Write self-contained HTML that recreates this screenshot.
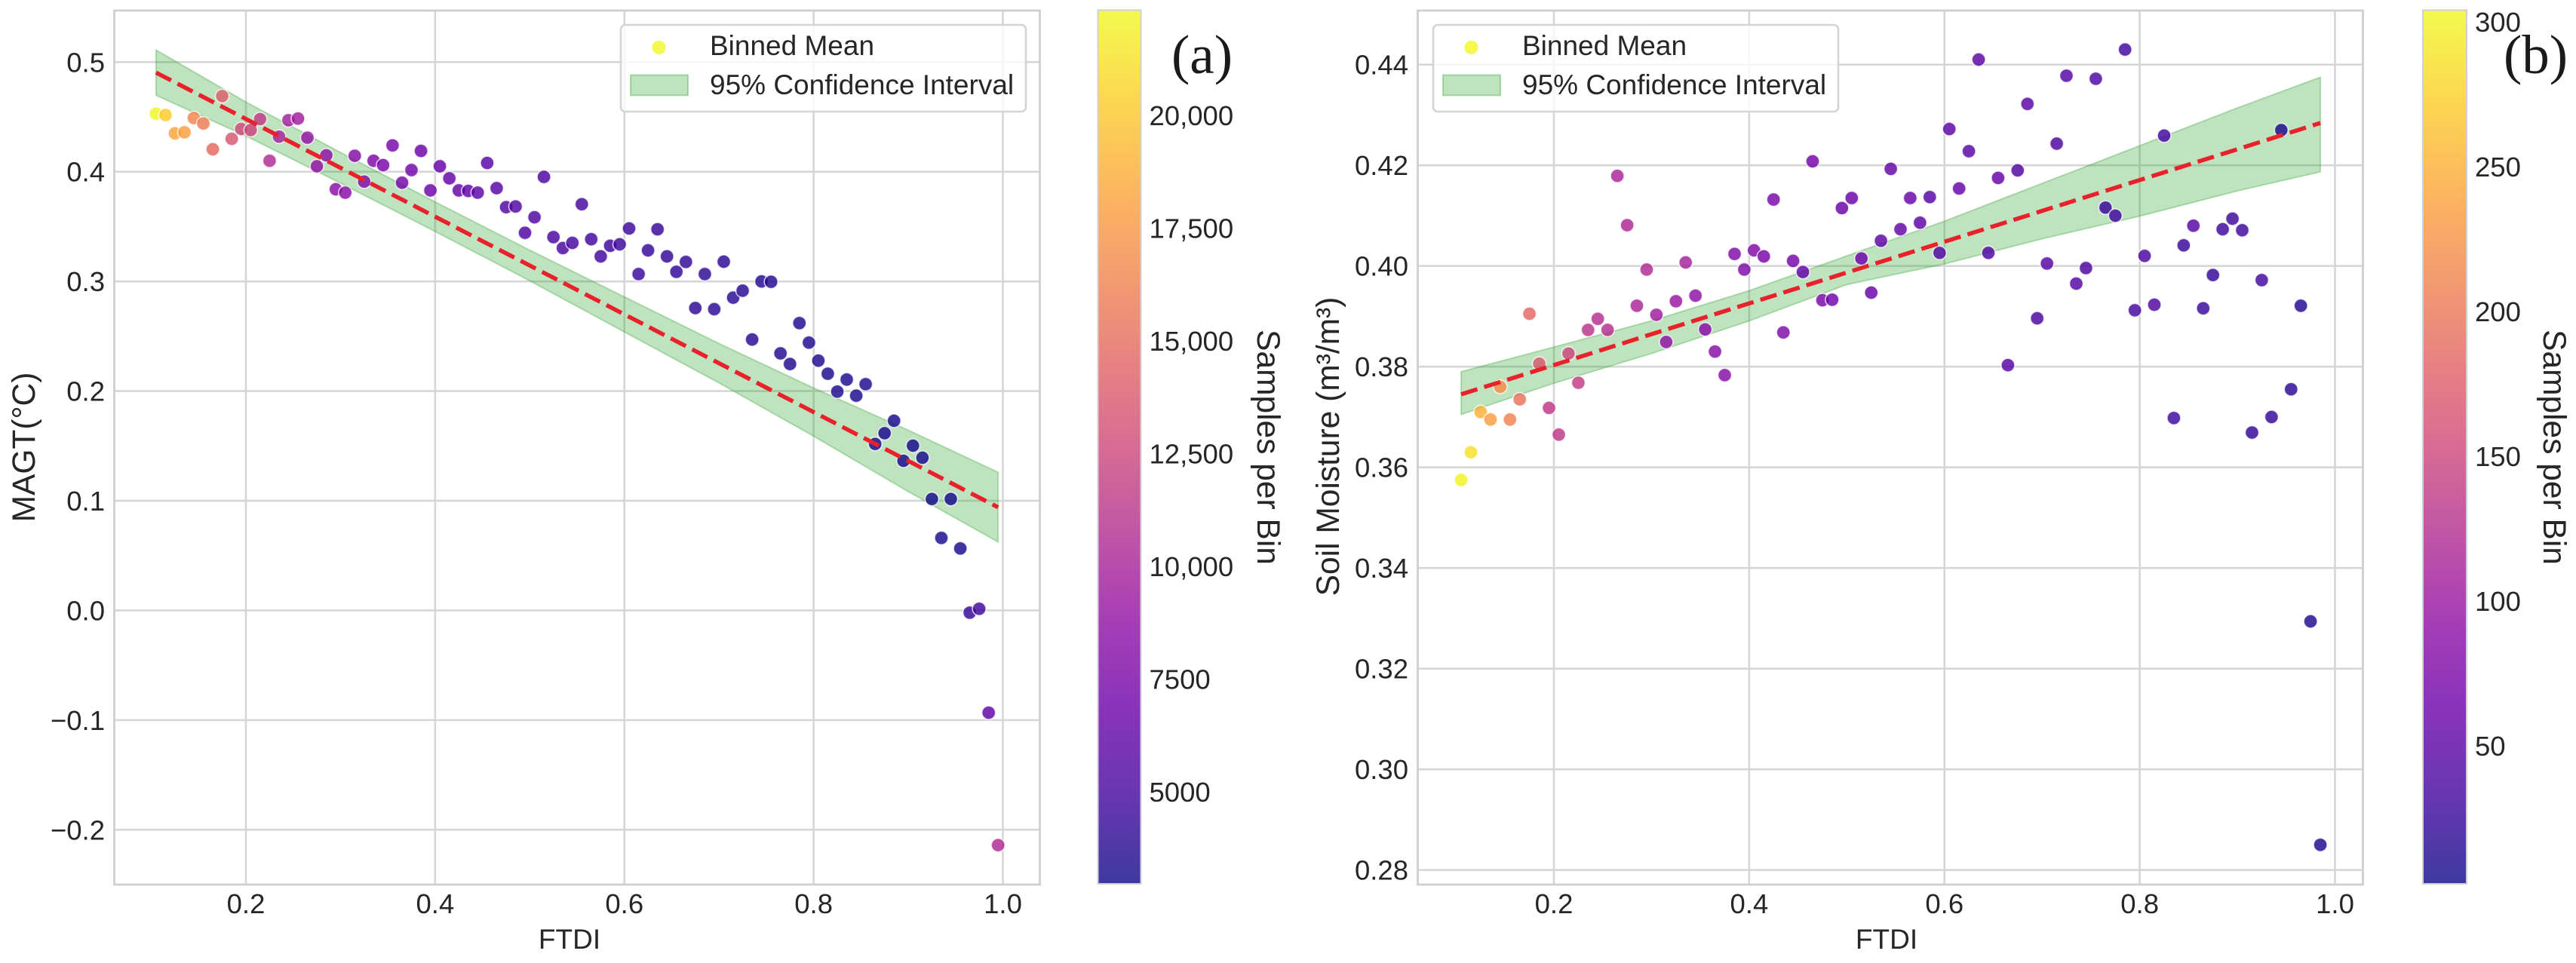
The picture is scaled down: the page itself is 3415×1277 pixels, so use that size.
<!DOCTYPE html>
<html lang="en">
<head>
<meta charset="utf-8">
<title>FTDI vs MAGT and Soil Moisture</title>
<style>
html,body{margin:0;padding:0;background:#fff;}
svg{display:block;}
text{font-family:"Liberation Sans",sans-serif;fill:#262626;}
.tick{font-size:36.5px;}
.legend-text{font-size:37px;}
.axis-title{font-size:42.5px;}
.x-title{font-size:37px;}
.panel-label{font-family:"Liberation Serif",serif;font-size:73px;fill:#1a1a1a;}
</style>
</head>
<body>
<svg id="figure" xmlns="http://www.w3.org/2000/svg" width="3415" height="1277" viewBox="0 0 3415 1277">
  <defs id="defs"></defs>
  <rect x="0" y="0" width="3415" height="1277" fill="#ffffff"/>

  <g id="panel-a">
    <g id="a-grid"></g>
    <g id="a-band"></g>
    <g id="a-points"></g>
    <g id="a-fit"></g>
    <rect x="151.5" y="14" width="1227" height="1159" fill="none" stroke="#cfcfcf" stroke-width="2.8"/>
    <g id="a-xticks"></g>
    <g id="a-yticks"></g>
    <text class="x-title" x="755" y="1258" text-anchor="middle">FTDI</text>
    <text class="axis-title" transform="translate(46 593) rotate(-90)" text-anchor="middle">MAGT(°C)</text>
    <g>
      <rect x="823" y="33" width="537" height="115" rx="6" fill="#ffffff" fill-opacity="0.8" stroke="#d4d4d4" stroke-width="2.6"/>
      <circle cx="873.5" cy="63" r="9" fill="#f0f921" fill-opacity="0.8"/>
      <text class="legend-text" x="941" y="73">Binned Mean</text>
      <rect x="836" y="99.5" width="76" height="27" fill="#2ca02c" fill-opacity="0.3" stroke="#2ca02c" stroke-opacity="0.35" stroke-width="2"/>
      <text class="legend-text" x="941" y="125">95% Confidence Interval</text>
    </g>
    <g id="a-cbar"></g>
    <text class="axis-title" transform="translate(1667 593) rotate(90)" text-anchor="middle">Samples per Bin</text>
    <text class="panel-label" x="1553" y="97">(a)</text>
  </g>

  <g id="panel-b">
    <g id="b-grid"></g>
    <g id="b-band"></g>
    <g id="b-points"></g>
    <g id="b-fit"></g>
    <rect x="1879.5" y="14" width="1253" height="1159" fill="none" stroke="#cfcfcf" stroke-width="2.8"/>
    <g id="b-xticks"></g>
    <g id="b-yticks"></g>
    <text class="x-title" x="2501" y="1258" text-anchor="middle">FTDI</text>
    <text class="axis-title" transform="translate(1775 592) rotate(-90)" text-anchor="middle">Soil Moisture (m³/m³)</text>
    <g>
      <rect x="1900" y="33" width="537" height="115" rx="6" fill="#ffffff" fill-opacity="0.8" stroke="#d4d4d4" stroke-width="2.6"/>
      <circle cx="1950.5" cy="63" r="9" fill="#f0f921" fill-opacity="0.8"/>
      <text class="legend-text" x="2018" y="73">Binned Mean</text>
      <rect x="1913" y="99.5" width="76" height="27" fill="#2ca02c" fill-opacity="0.3" stroke="#2ca02c" stroke-opacity="0.35" stroke-width="2"/>
      <text class="legend-text" x="2018" y="125">95% Confidence Interval</text>
    </g>
    <g id="b-cbar"></g>
    <text class="axis-title" transform="translate(3372 593) rotate(90)" text-anchor="middle">Samples per Bin</text>
    <text class="panel-label" x="3319" y="97">(b)</text>
  </g>
</svg>

<script>
// ---------- Panel (a) data ----------
const ftdiA = [
  0.105,0.115,0.125,0.135,0.145,0.155,0.165,0.175,0.185,0.195,
  0.205,0.215,0.225,0.235,0.245,0.255,0.265,0.275,0.285,0.295,
  0.305,0.315,0.325,0.335,0.345,0.355,0.365,0.375,0.385,0.395,
  0.405,0.415,0.425,0.435,0.445,0.455,0.465,0.475,0.485,0.495,
  0.505,0.515,0.525,0.535,0.545,0.555,0.565,0.575,0.585,0.595,
  0.605,0.615,0.625,0.635,0.645,0.655,0.665,0.675,0.685,0.695,
  0.705,0.715,0.725,0.735,0.745,0.755,0.765,0.775,0.785,0.795,
  0.805,0.815,0.825,0.835,0.845,0.855,0.865,0.875,0.885,0.895,
  0.905,0.915,0.925,0.935,0.945,0.955,0.965,0.975,0.985,0.995];
const magt = [
  0.453,0.4517,0.435,0.436,0.449,0.444,0.4205,0.469,0.430,0.439,
  0.438,0.448,0.410,0.432,0.447,0.4485,0.431,0.405,0.415,0.384,
  0.381,0.4145,0.391,0.410,0.406,0.424,0.390,0.4015,0.419,0.383,
  0.405,0.394,0.383,0.3825,0.381,0.408,0.385,0.3677,0.3683,0.3443,
  0.3585,0.3953,0.3404,0.3304,0.3351,0.3704,0.3385,0.3228,0.3325,0.3338,
  0.3483,0.3067,0.3283,0.3475,0.3228,0.3088,0.3178,0.2757,0.3067,0.2747,
  0.318,0.2852,0.2915,0.247,0.3,0.2996,0.2344,0.2247,0.262,0.2442,
  0.2278,0.2158,0.1995,0.2105,0.1958,0.2063,0.1518,0.1616,0.1729,0.1364,
  0.1502,0.1392,0.1016,0.0661,0.1016,0.0565,-0.002,0.0015,-0.0933,-0.214];
const samplesA = [
  22300,20200,18300,18000,16500,16000,14800,14000,13600,12700,
  12400,11700,10600,9900,9800,9600,9000,8900,8700,8500,
  8300,8200,8000,7800,7600,7400,7200,7100,6900,6800,
  6600,6500,6400,6300,6100,5900,5800,5700,5600,5500,
  5400,5300,5200,5100,5050,5000,4900,4800,4700,4650,
  4600,4500,4450,4400,4300,4250,4200,4100,4050,4000,
  3950,3900,3850,3800,3750,3700,3650,3600,3580,3560,
  3520,3480,3450,3420,3400,3380,3300,3280,3250,3200,
  3180,3150,3120,3300,3100,3400,4400,4800,6200,10500];
const bandXA = [0.105,0.2,0.3,0.4,0.5,0.6,0.7,0.8,0.9,0.995];
const bandUpperA = [0.511,0.4636,0.4176,0.3725,0.3285,0.2859,0.2434,0.2029,0.1643,0.126];
const bandLowerA = [0.4697,0.4326,0.3896,0.3455,0.3005,0.2539,0.2074,0.1589,0.1083,0.0624];
const fitXA = [0.105,0.995];
const fitYA = [0.4904,0.094];
const yTicksA = [-0.2,-0.1,0,0.1,0.2,0.3,0.4,0.5];
const yTickLabelsA = ['\u22120.2','\u22120.1','0.0','0.1','0.2','0.3','0.4','0.5'];
const cbarTicksA = [5000,7500,10000,12500,15000,17500,20000];
const cbarTickLabelsA = ['5000','7500','10,000','12,500','15,000','17,500','20,000'];

// ---------- Panel (b) data ----------
const ftdiB = [
  0.105,0.115,0.125,0.135,0.145,0.155,0.165,0.175,0.185,0.195,
  0.205,0.215,0.225,0.235,0.245,0.255,0.265,0.275,0.285,0.295,
  0.305,0.315,0.325,0.335,0.345,0.355,0.365,0.375,0.385,0.395,
  0.405,0.415,0.425,0.435,0.445,0.455,0.465,0.475,0.485,0.495,
  0.505,0.515,0.525,0.535,0.545,0.555,0.565,0.575,0.585,0.595,
  0.605,0.615,0.625,0.635,0.645,0.655,0.665,0.675,0.685,0.695,
  0.705,0.715,0.725,0.735,0.745,0.755,0.765,0.775,0.785,0.795,
  0.805,0.815,0.825,0.835,0.845,0.855,0.865,0.875,0.885,0.895,
  0.905,0.915,0.925,0.935,0.945,0.955,0.965,0.975,0.985];
const soilMoisture = [
  0.3575,0.363,0.371,0.3695,0.376,0.3695,0.3735,0.3905,0.3806,0.3718,
  0.3665,0.3826,0.3768,0.3873,0.3895,0.3873,0.4179,0.4081,0.3921,0.3993,
  0.3903,0.3849,0.393,0.4007,0.3941,0.3874,0.383,0.3783,0.4024,0.3993,
  0.4031,0.4019,0.4132,0.3868,0.401,0.3988,0.4208,0.3932,0.3933,0.4115,
  0.4135,0.4015,0.3947,0.405,0.4193,0.4073,0.4135,0.4086,0.4137,0.4026,
  0.4272,0.4154,0.4228,0.441,0.4026,0.4175,0.3803,0.419,0.4322,0.3896,
  0.4005,0.4243,0.4378,0.3965,0.3996,0.4372,0.4116,0.41,0.443,0.3912,
  0.402,0.3923,0.4259,0.3698,0.4041,0.408,0.3916,0.3982,0.4073,0.4094,
  0.4071,0.3669,0.3972,0.37,0.427,0.3755,0.3921,0.3294,0.285];
const samplesB = [
  300,285,250,235,220,210,195,185,170,135,
  135,150,140,130,125,125,115,118,115,120,
  105,95,100,110,92,85,85,85,78,78,
  80,72,75,78,70,55,70,72,65,60,
  62,62,58,52,55,55,58,50,48,42,
  52,56,48,50,40,56,48,42,50,38,
  48,38,45,45,40,40,26,30,32,35,
  38,42,32,28,25,48,26,22,28,30,
  30,22,32,22,8,18,14,12,10];
const bandXB = [0.105,0.2,0.3,0.4,0.5,0.6,0.7,0.8,0.9,0.985];
const bandUpperB = [0.379,0.3839,0.3891,0.3951,0.402,0.4089,0.4164,0.4239,0.4314,0.4375];
const bandLowerB = [0.3705,0.3767,0.3826,0.3891,0.3963,0.4004,0.4054,0.4099,0.4149,0.4187];
const fitXB = [0.105,0.985];
const fitYB = [0.3745,0.4284];
const yTicksB = [0.28,0.30,0.32,0.34,0.36,0.38,0.40,0.42,0.44];
const yTickLabelsB = ['0.28','0.30','0.32','0.34','0.36','0.38','0.40','0.42','0.44'];
const cbarTicksB = [50,100,150,200,250,300];
const cbarTickLabelsB = ['50','100','150','200','250','300'];

// ---------- Shared ----------
const xTicks = [0.2,0.4,0.6,0.8,1.0];
const xTickLabels = ['0.2','0.4','0.6','0.8','1.0'];
const plasmaStops = ['#0d0887','#41049d','#6a00a8','#8f0da4','#b12a90','#cc4778','#e16462','#f2844b','#fca636','#fcce25','#f0f921'];

const SVGNS = 'http://www.w3.org/2000/svg';

// Axis functions
function scale(v0, p0, v1, p1) {
  return function (v) { return p0 + (v - v0) * (p1 - p0) / (v1 - v0); };
}
const xA = scale(0.2, 326, 1.0, 1329.5);
const yA = scale(0.5, 82.3, -0.2, 1100.3);
const cA = scale(2960, 0, 22340, 1);
const cbarYA = scale(20000, 153, 5000, 1050);
const xB = scale(0.2, 2060, 1.0, 3095.5);
const yB = scale(0.44, 85.7, 0.28, 1153.7);
const cB = scale(2.3, 0, 304, 1);
const cbarYB = scale(300, 29, 50, 989);

function hexToRgb(h) {
  return [parseInt(h.slice(1,3),16), parseInt(h.slice(3,5),16), parseInt(h.slice(5,7),16)];
}
function plasma(t) {
  const c = Math.max(0, Math.min(1, t)) * (plasmaStops.length - 1);
  const i = Math.min(Math.floor(c), plasmaStops.length - 2);
  const f = c - i;
  const a = hexToRgb(plasmaStops[i]);
  const b = hexToRgb(plasmaStops[i + 1]);
  return 'rgb(' + [0,1,2].map(function (k) { return Math.round(a[k] + (b[k] - a[k]) * f); }).join(',') + ')';
}
function make(tag, parent) {
  const el = document.createElementNS(SVGNS, tag);
  parent.appendChild(el);
  return el;
}

function drawGrid(host, xs, ys, xf, yf, left, right, top, bottom) {
  xs.forEach(function (v) {
    const el = make('line', host);
    
    
    el.setAttribute('x1', xf(v)); el.setAttribute('x2', xf(v));
    el.setAttribute('y1', top); el.setAttribute('y2', bottom);
    el.setAttribute('stroke', '#d6d6d6'); el.setAttribute('stroke-width', '2.6');
  });
  ys.forEach(function (v) {
    const el = make('line', host);
    
    
    el.setAttribute('x1', left); el.setAttribute('x2', right);
    el.setAttribute('y1', yf(v)); el.setAttribute('y2', yf(v));
    el.setAttribute('stroke', '#d6d6d6'); el.setAttribute('stroke-width', '2.6');
  });
}

function drawBand(host, bx, up, lo, xf, yf) {
  const top = bx.map(function (v, i) { return xf(v).toFixed(1) + ',' + yf(up[i]).toFixed(1); });
  const bot = bx.map(function (v, i) { return xf(v).toFixed(1) + ',' + yf(lo[i]).toFixed(1); }).reverse();
  const el = make('polygon', host);
  
  
  el.setAttribute('points', top.concat(bot).join(' '));
  el.setAttribute('fill', '#2ca02c');
  el.setAttribute('fill-opacity', '0.3');
  el.setAttribute('stroke', '#2ca02c');
  el.setAttribute('stroke-opacity', '0.3');
  el.setAttribute('stroke-width', '2');
}

function drawPoints(host, xs, ys, ss, xf, yf, cf) {
  xs.forEach(function (v, i) {
    const el = make('circle', host);
    
    
    el.setAttribute('cx', xf(v).toFixed(1));
    el.setAttribute('cy', yf(ys[i]).toFixed(1));
    el.setAttribute('r', '9');
    el.setAttribute('fill', plasma(cf(ss[i])));
    el.setAttribute('fill-opacity', '0.82');
    el.setAttribute('stroke', '#ffffff');
    el.setAttribute('stroke-opacity', '0.75');
    el.setAttribute('stroke-width', '1.6');
  });
}

function drawFit(host, fx, fy, xf, yf) {
  const el = make('line', host);
  
  
  el.setAttribute('x1', xf(fx[0])); el.setAttribute('y1', yf(fy[0]));
  el.setAttribute('x2', xf(fx[1])); el.setAttribute('y2', yf(fy[1]));
  el.setAttribute('stroke', '#e8212b');
  el.setAttribute('stroke-width', '5.5');
  el.setAttribute('stroke-dasharray', '22.5 9.5');
}

function drawXTicks(host, xs, labels, xf) {
  xs.forEach(function (v, i) {
    const el = make('text', host);
    
    
    el.setAttribute('class', 'tick');
    el.setAttribute('x', xf(v));
    el.setAttribute('y', 1211);
    el.setAttribute('text-anchor', 'middle');
    el.textContent = labels[i];
  });
}

function drawYTicks(host, ys, labels, yf, rightEdge) {
  ys.forEach(function (v, i) {
    const el = make('text', host);
    
    
    el.setAttribute('class', 'tick');
    el.setAttribute('x', rightEdge);
    el.setAttribute('y', yf(v) + 13);
    el.setAttribute('text-anchor', 'end');
    el.textContent = labels[i];
  });
}

function drawColorbar(host, left, width, ticks, labels, yf, gradId) {
  const bar = make('rect', host);
  
  
  bar.setAttribute('x', left);
  bar.setAttribute('y', 13.5);
  bar.setAttribute('width', width);
  bar.setAttribute('height', 1158.5);
  bar.setAttribute('fill', 'url(#' + gradId + ')');
  bar.setAttribute('fill-opacity', '0.8');
  bar.setAttribute('stroke', '#cfcfd6');
  bar.setAttribute('stroke-width', '2');
  ticks.forEach(function (v, i) {
    const el = make('text', host);
    
    
    el.setAttribute('class', 'tick');
    el.setAttribute('x', left + width + 11);
    el.setAttribute('y', yf(v) + 13);
    el.textContent = labels[i];
  });
}

function buildGradient(id) {
  const defs = document.getElementById('defs');
  const g = make('linearGradient', defs);
  g.setAttribute('id', id);
  g.setAttribute('x1', '0'); g.setAttribute('y1', '1');
  g.setAttribute('x2', '0'); g.setAttribute('y2', '0');
  plasmaStops.forEach(function (c, i) {
    const s = make('stop', g);
    s.setAttribute('offset', i / (plasmaStops.length - 1));
    s.setAttribute('stop-color', c);
  });
}

function host(id) { return document.getElementById(id); }

buildGradient('plasma-a');
buildGradient('plasma-b');

drawGrid(host('a-grid'), xTicks, yTicksA, xA, yA, 151.5, 1378.5, 14, 1173);
drawBand(host('a-band'), bandXA, bandUpperA, bandLowerA, xA, yA);
drawPoints(host('a-points'), ftdiA, magt, samplesA, xA, yA, cA);
drawFit(host('a-fit'), fitXA, fitYA, xA, yA);
drawXTicks(host('a-xticks'), xTicks, xTickLabels, xA);
drawYTicks(host('a-yticks'), yTicksA, yTickLabelsA, yA, 139);
drawColorbar(host('a-cbar'), 1455.5, 57, cbarTicksA, cbarTickLabelsA, cbarYA, 'plasma-a');

drawGrid(host('b-grid'), xTicks, yTicksB, xB, yB, 1879.5, 3132.5, 14, 1173);
drawBand(host('b-band'), bandXB, bandUpperB, bandLowerB, xB, yB);
drawPoints(host('b-points'), ftdiB, soilMoisture, samplesB, xB, yB, cB);
drawFit(host('b-fit'), fitXB, fitYB, xB, yB);
drawXTicks(host('b-xticks'), xTicks, xTickLabels, xB);
drawYTicks(host('b-yticks'), yTicksB, yTickLabelsB, yB, 1867);
drawColorbar(host('b-cbar'), 3212, 58, cbarTicksB, cbarTickLabelsB, cbarYB, 'plasma-b');
</script>
</body>
</html>
